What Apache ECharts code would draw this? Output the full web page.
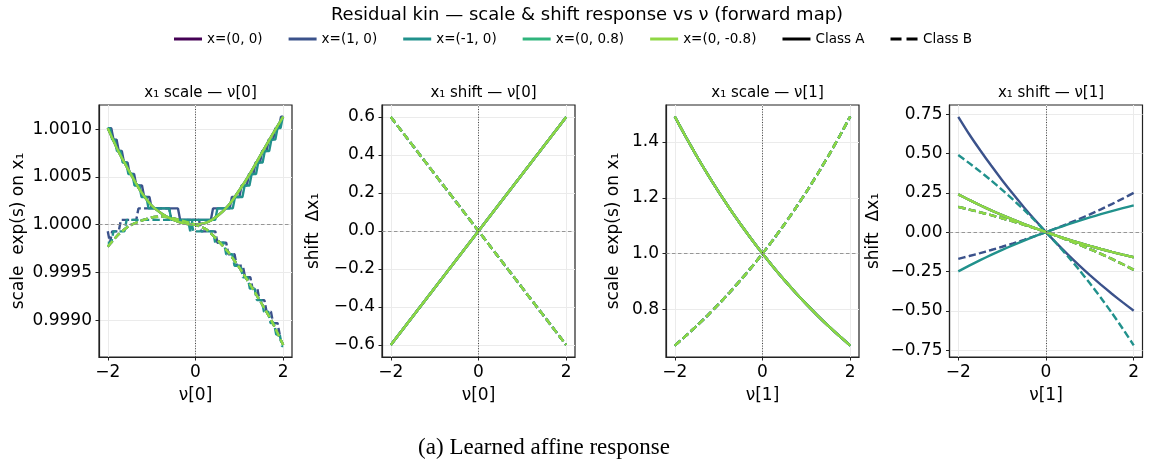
<!DOCTYPE html>
<html><head><meta charset="utf-8">
<script src="https://cdn.jsdelivr.net/npm/echarts@6/dist/echarts.min.js"></script>
<style>html,body{margin:0;padding:0;background:#fff}#c{width:1165px;height:466px}</style>
</head><body><div id="c"></div>
<script>
// ---------- data ----------
const NAMES = ['x=(0, 0)', 'x=(1, 0)', 'x=(-1, 0)', 'x=(0, 0.8)', 'x=(0, -0.8)'];
const COLORS = ['#440154', '#3b528b', '#21918c', '#2fb47c', '#8fd744'];
const NU = [-2, -1.75, -1.5, -1.25, -1, -0.75, -0.5, -0.25, 0, 0.25, 0.5, 0.75, 1, 1.25, 1.5, 1.75, 2];
const NU_LIN = [-2, -1.5, -1, -0.5, 0, 0.5, 1, 1.5, 2];

// panel 1: x1 scale vs nu[0]  (quantized curves given as [nu, value] corner samples)
const P1_BLUE_A = [[-2.0,1.00101],[-1.92,1.00101],[-1.87,1.00089],[-1.80,1.00089],[-1.75,1.00077],[-1.68,1.00077],[-1.63,1.00065],[-1.55,1.00065],[-1.50,1.00053],[-1.40,1.00053],[-1.35,1.00041],[-1.22,1.00041],[-1.17,1.00029],[-1.05,1.00029],[-1.00,1.00017],[-0.40,1.00017],[-0.35,1.00005],[0.35,1.00005],[0.40,1.00017],[0.78,1.00017],[0.83,1.00029],[1.00,1.00029],[1.05,1.00041],[1.17,1.00041],[1.22,1.00053],[1.32,1.00053],[1.37,1.00065],[1.47,1.00065],[1.52,1.00077],[1.62,1.00077],[1.67,1.00089],[1.77,1.00089],[1.82,1.00101],[1.90,1.00101],[1.95,1.00113],[2.0,1.00113]];
const P1_TEAL_A = [[-2.0,1.00101],[-1.95,1.00101],[-1.90,1.00089],[-1.84,1.00089],[-1.79,1.00077],[-1.71,1.00077],[-1.66,1.00065],[-1.58,1.00065],[-1.53,1.00053],[-1.44,1.00053],[-1.39,1.00041],[-1.28,1.00041],[-1.23,1.00029],[-1.12,1.00029],[-1.07,1.00017],[-0.60,1.00017],[-0.55,1.00005],[-0.17,1.00005],[-0.12,0.99993],[-0.07,1.00005],[0.45,1.00005],[0.50,1.00017],[0.85,1.00017],[0.90,1.00029],[1.07,1.00029],[1.12,1.00041],[1.23,1.00041],[1.28,1.00053],[1.38,1.00053],[1.43,1.00065],[1.53,1.00065],[1.58,1.00077],[1.68,1.00077],[1.73,1.00089],[1.82,1.00089],[1.87,1.00101],[1.94,1.00101],[1.99,1.00113],[2.0,1.00113]];
const P1_BLUE_B = [[-2.0,0.99993],[-1.95,0.99981],[-1.90,0.99993],[-1.75,0.99993],[-1.70,1.00005],[-1.35,1.00005],[-1.30,1.00017],[-0.60,1.00017],[-0.55,1.00005],[0.08,1.00005],[0.13,0.99993],[0.45,0.99993],[0.50,0.99981],[0.70,0.99981],[0.75,0.99969],[0.89,0.99969],[0.94,0.99957],[1.08,0.99957],[1.13,0.99945],[1.25,0.99945],[1.30,0.99933],[1.41,0.99933],[1.46,0.99921],[1.57,0.99921],[1.62,0.99909],[1.72,0.99909],[1.77,0.99897],[1.87,0.99897],[1.92,0.99885],[2.0,0.99885]];
const P1_TEAL_B = [[-2.0,0.99981],[-1.92,0.99981],[-1.87,0.99993],[-1.62,0.99993],[-1.57,1.00005],[-0.10,1.00005],[-0.05,0.99993],[0.40,0.99993],[0.45,0.99981],[0.65,0.99981],[0.70,0.99969],[0.84,0.99969],[0.89,0.99957],[1.03,0.99957],[1.08,0.99945],[1.19,0.99945],[1.24,0.99933],[1.35,0.99933],[1.40,0.99921],[1.51,0.99921],[1.56,0.99909],[1.66,0.99909],[1.71,0.99897],[1.79,0.99897],[1.84,0.99885],[1.92,0.99885],[1.97,0.99873],[2.0,0.99873]];
const P1_GREEN_A = [1.00101,1.00076,1.00055,1.00035,1.00020,1.00011,1.00005,1.00001,1.00000,1.00002,1.00009,1.00020,1.00036,1.00054,1.00074,1.00094,1.00113];
const P1_GREEN_B = [0.99977,0.99990,0.99999,1.00004,1.000075,1.000085,1.000065,1.000035,1.00000,0.99995,0.99984,0.99971,0.99955,0.99937,0.99918,0.99898,0.99874];

// panel 2: x1 shift vs nu[0]
const P2_A = [-0.6,-0.45,-0.3,-0.15,0,0.15,0.3,0.45,0.6];
const P2_B = [0.6,0.45,0.3,0.15,0,-0.15,-0.3,-0.45,-0.6];

// panel 3: x1 scale vs nu[1]
const P3_A = [1.4918,1.4191,1.3499,1.2840,1.2214,1.1618,1.1052,1.0513,1.0,0.9512,0.9048,0.8607,0.8187,0.7788,0.7408,0.7047,0.6703];
const P3_B = [0.6703,0.7047,0.7408,0.7788,0.8187,0.8607,0.9048,0.9512,1.0,1.0513,1.1052,1.1618,1.2214,1.2840,1.3499,1.4191,1.4918];

// panel 4: x1 shift vs nu[1]
const P4_BLUE_A = [0.733,0.622,0.520,0.423,0.330,0.242,0.157,0.0768,0,-0.0732,-0.1431,-0.2098,-0.2733,-0.3339,-0.3918,-0.4469,-0.4996];
const P4_TEAL_A = [-0.250,-0.2133,-0.1782,-0.1448,-0.1130,-0.0827,-0.0538,-0.0262,0,0.0250,0.0488,0.0716,0.0932,0.1138,0.1335,0.1522,0.1701];
const P4_GREEN_A = [0.240,0.2044,0.1706,0.1384,0.1079,0.0788,0.0512,0.0250,0,-0.0237,-0.0463,-0.0677,-0.0881,-0.1075,-0.1259,-0.1434,-0.160];
const P4_BLUE_B = [-0.170,-0.1520,-0.1333,-0.1137,-0.0931,-0.0715,-0.0488,-0.0250,0,0.0262,0.0537,0.0826,0.1129,0.1447,0.1780,0.2130,0.2499];
const P4_TEAL_B = [0.490,0.4386,0.3846,0.3280,0.2685,0.2062,0.1407,0.0721,0,-0.0756,-0.1549,-0.2382,-0.3255,-0.4171,-0.5133,-0.6142,-0.7199];
const P4_GREEN_B = [0.160,0.1434,0.1259,0.1075,0.0881,0.0677,0.0463,0.0237,0,-0.0250,-0.0512,-0.0788,-0.1079,-0.1384,-0.1706,-0.2044,-0.240];

// ticks
const X_TICKS = [-2, 0, 2];
const X_TICK_LABELS = ['\u22122', '0', '2'];
const P1_YTICKS = [0.999, 0.9995, 1.0, 1.0005, 1.001];
const P1_YLABELS = ['0.9990', '0.9995', '1.0000', '1.0005', '1.0010'];
const P2_YTICKS = [-0.6, -0.4, -0.2, 0, 0.2, 0.4, 0.6];
const P2_YLABELS = ['\u22120.6', '\u22120.4', '\u22120.2', '0.0', '0.2', '0.4', '0.6'];
const P3_YTICKS = [0.8, 1.0, 1.2, 1.4];
const P3_YLABELS = ['0.8', '1.0', '1.2', '1.4'];
const P4_YTICKS = [-0.75, -0.5, -0.25, 0, 0.25, 0.5, 0.75];
const P4_YLABELS = ['\u22120.75', '\u22120.50', '\u22120.25', '0.00', '0.25', '0.50', '0.75'];

// ---------- build ----------
const FONT = 'DejaVu Sans';
const zip = (xs, ys) => xs.map((x, i) => [x, ys[i]]);
const lookup = (ticks, labels) => (v) => {
  let best = 0;
  for (let i = 1; i < ticks.length; i++) if (Math.abs(ticks[i] - v) < Math.abs(ticks[best] - v)) best = i;
  return labels[best];
};

const panels = [
  { left: 99, title: 'x\u2081 scale \u2014 \u03bd[0]', xname: '\u03bd[0]', yname: 'scale  exp(s) on x\u2081', nameGap: 72,
    ymin: 0.998615, ymax: 1.001252, yt: P1_YTICKS, yl: P1_YLABELS, ref: 1,
    A: [zip(NU, P1_GREEN_A), P1_BLUE_A, P1_TEAL_A, zip(NU, P1_GREEN_A), zip(NU, P1_GREEN_A)],
    B: [zip(NU, P1_GREEN_B), P1_BLUE_B, P1_TEAL_B, zip(NU, P1_GREEN_B), zip(NU, P1_GREEN_B)] },
  { left: 382, title: 'x\u2081 shift \u2014 \u03bd[0]', xname: '\u03bd[0]', yname: 'shift  \u0394x\u2081', nameGap: 60,
    ymin: -0.663, ymax: 0.663, yt: P2_YTICKS, yl: P2_YLABELS, ref: 0,
    A: [0,1,2,3,4].map(() => zip(NU_LIN, P2_A)),
    B: [0,1,2,3,4].map(() => zip(NU_LIN, P2_B)) },
  { left: 666, title: 'x\u2081 scale \u2014 \u03bd[1]', xname: '\u03bd[1]', yname: 'scale  exp(s) on x\u2081', nameGap: 44,
    ymin: 0.6292, ymax: 1.5329, yt: P3_YTICKS, yl: P3_YLABELS, ref: 1,
    A: [0,1,2,3,4].map(() => zip(NU, P3_A)),
    B: [0,1,2,3,4].map(() => zip(NU, P3_B)) },
  { left: 949.5, title: 'x\u2081 shift \u2014 \u03bd[1]', xname: '\u03bd[1]', yname: 'shift  \u0394x\u2081', nameGap: 67,
    ymin: -0.794, ymax: 0.808, yt: P4_YTICKS, yl: P4_YLABELS, ref: 0,
    A: [zip(NU, P4_GREEN_A), zip(NU, P4_BLUE_A), zip(NU, P4_TEAL_A), zip(NU, P4_GREEN_A), zip(NU, P4_GREEN_A)],
    B: [zip(NU, P4_GREEN_B), zip(NU, P4_BLUE_B), zip(NU, P4_TEAL_B), zip(NU, P4_GREEN_B), zip(NU, P4_GREEN_B)] }
];

const W = 193, TOP = 105, H = 252;
const grid = [], xAxis = [], yAxis = [], series = [];
const title = [
  { text: 'Residual kin \u2014 scale & shift response vs \u03bd (forward map)', left: 582, top: 1, textAlign: 'center',
    textStyle: { fontFamily: FONT, fontSize: 18, fontWeight: 'normal', color: '#000' } },
  { text: '(a) Learned affine response', left: 539, top: 431, textAlign: 'center',
    textStyle: { fontFamily: 'Liberation Serif', fontSize: 23, fontWeight: 'normal', color: '#000' } }
];

panels.forEach((p, gi) => {
  grid.push({ left: p.left, top: TOP, width: W, height: H, show: true, borderColor: '#222', borderWidth: 1.2, backgroundColor: 'transparent' });
  title.push({ text: p.title, left: p.left + W / 2, top: 81, textAlign: 'center',
    textStyle: { fontFamily: FONT, fontSize: 15, fontWeight: 'normal', color: '#000' } });
  xAxis.push({
    type: 'value', gridIndex: gi, min: -2.2, max: 2.2,
    name: p.xname, nameLocation: 'middle', nameGap: 30,
    nameTextStyle: { fontFamily: FONT, fontSize: 17, color: '#000' },
    axisLine: { show: true, onZero: false, lineStyle: { color: '#222', width: 1.2 } },
    axisTick: { show: true, length: 3.5, lineStyle: { color: '#222', width: 1 }, customValues: X_TICKS },
    axisLabel: { fontFamily: FONT, fontSize: 17, color: '#000', margin: 7, customValues: X_TICKS, formatter: lookup(X_TICKS, X_TICK_LABELS) },
    splitLine: { show: true, lineStyle: { color: '#ebebeb', width: 1 } }
  });
  yAxis.push({
    type: 'value', gridIndex: gi, min: p.ymin, max: p.ymax, scale: true,
    name: p.yname, nameLocation: 'middle', nameGap: p.nameGap, nameRotate: 90,
    nameTextStyle: { fontFamily: FONT, fontSize: 17, color: '#000' },
    axisLine: { show: true, onZero: false, lineStyle: { color: '#222', width: 1.2 } },
    axisTick: { show: true, length: 3.5, lineStyle: { color: '#222', width: 1 }, customValues: p.yt },
    axisLabel: { fontFamily: FONT, fontSize: 17, color: '#000', margin: 7, customValues: p.yt, formatter: lookup(p.yt, p.yl) },
    splitLine: { show: true, lineStyle: { color: '#ebebeb', width: 1 } }
  });
  for (let c = 0; c < 5; c++) {
    ['A', 'B'].forEach((cls) => {
      const s = {
        type: 'line', name: NAMES[c], xAxisIndex: gi, yAxisIndex: gi,
        data: p[cls][c], symbol: 'none', smooth: (p[cls][c].length === NU.length && gi !== 1) ? 0.2 : false,
        color: COLORS[c],
        lineStyle: { color: COLORS[c], width: 2.4, type: cls === 'A' ? 'solid' : [7.4, 3.2] },
        silent: true, animation: false
      };
      if (c === 0 && cls === 'A') {
        s.markLine = {
          silent: true, symbol: 'none', label: { show: false }, animation: false,
          data: [
            { yAxis: p.ref, lineStyle: { type: [3.5, 2.5], color: '#8c8c8c', width: 0.9 } },
            { xAxis: 0, lineStyle: { type: [1, 1.6], color: '#333', width: 0.9 } }
          ]
        };
      }
      series.push(s);
    });
  }
});

series.push({ type: 'line', name: 'Class A', xAxisIndex: 0, yAxisIndex: 0, data: [], symbol: 'none', color: '#000',
  lineStyle: { color: '#000', width: 2.4, type: 'solid' } });
series.push({ type: 'line', name: 'Class B', xAxisIndex: 0, yAxisIndex: 0, data: [], symbol: 'none', color: '#000',
  lineStyle: { color: '#000', width: 2.4, type: [7.4, 3.2] } });

const SOLID_ICON = 'path://M0,0H28V3H0Z';
const DASH_ICON = 'path://M0,0H11V3H0Z M16,0H27V3H16Z';
const legendData = NAMES.map((n, i) => ({ name: n, icon: SOLID_ICON, itemStyle: { color: COLORS[i] } }))
  .concat([{ name: 'Class A', icon: SOLID_ICON, itemStyle: { color: '#000' } },
           { name: 'Class B', icon: DASH_ICON, itemStyle: { color: '#000' } }]);

const chart = echarts.init(document.getElementById('c'), null, { renderer: 'canvas' });
chart.setOption({
  animation: false,
  backgroundColor: '#fff',
  title: title,
  legend: {
    data: legendData,
    left: 169, top: 27, itemWidth: 28, itemHeight: 3, itemGap: 26,
    textStyle: { fontFamily: FONT, fontSize: 13.5, color: '#000' },
    selectedMode: false
  },
  grid: grid, xAxis: xAxis, yAxis: yAxis, series: series
});
</script>
</body></html>
